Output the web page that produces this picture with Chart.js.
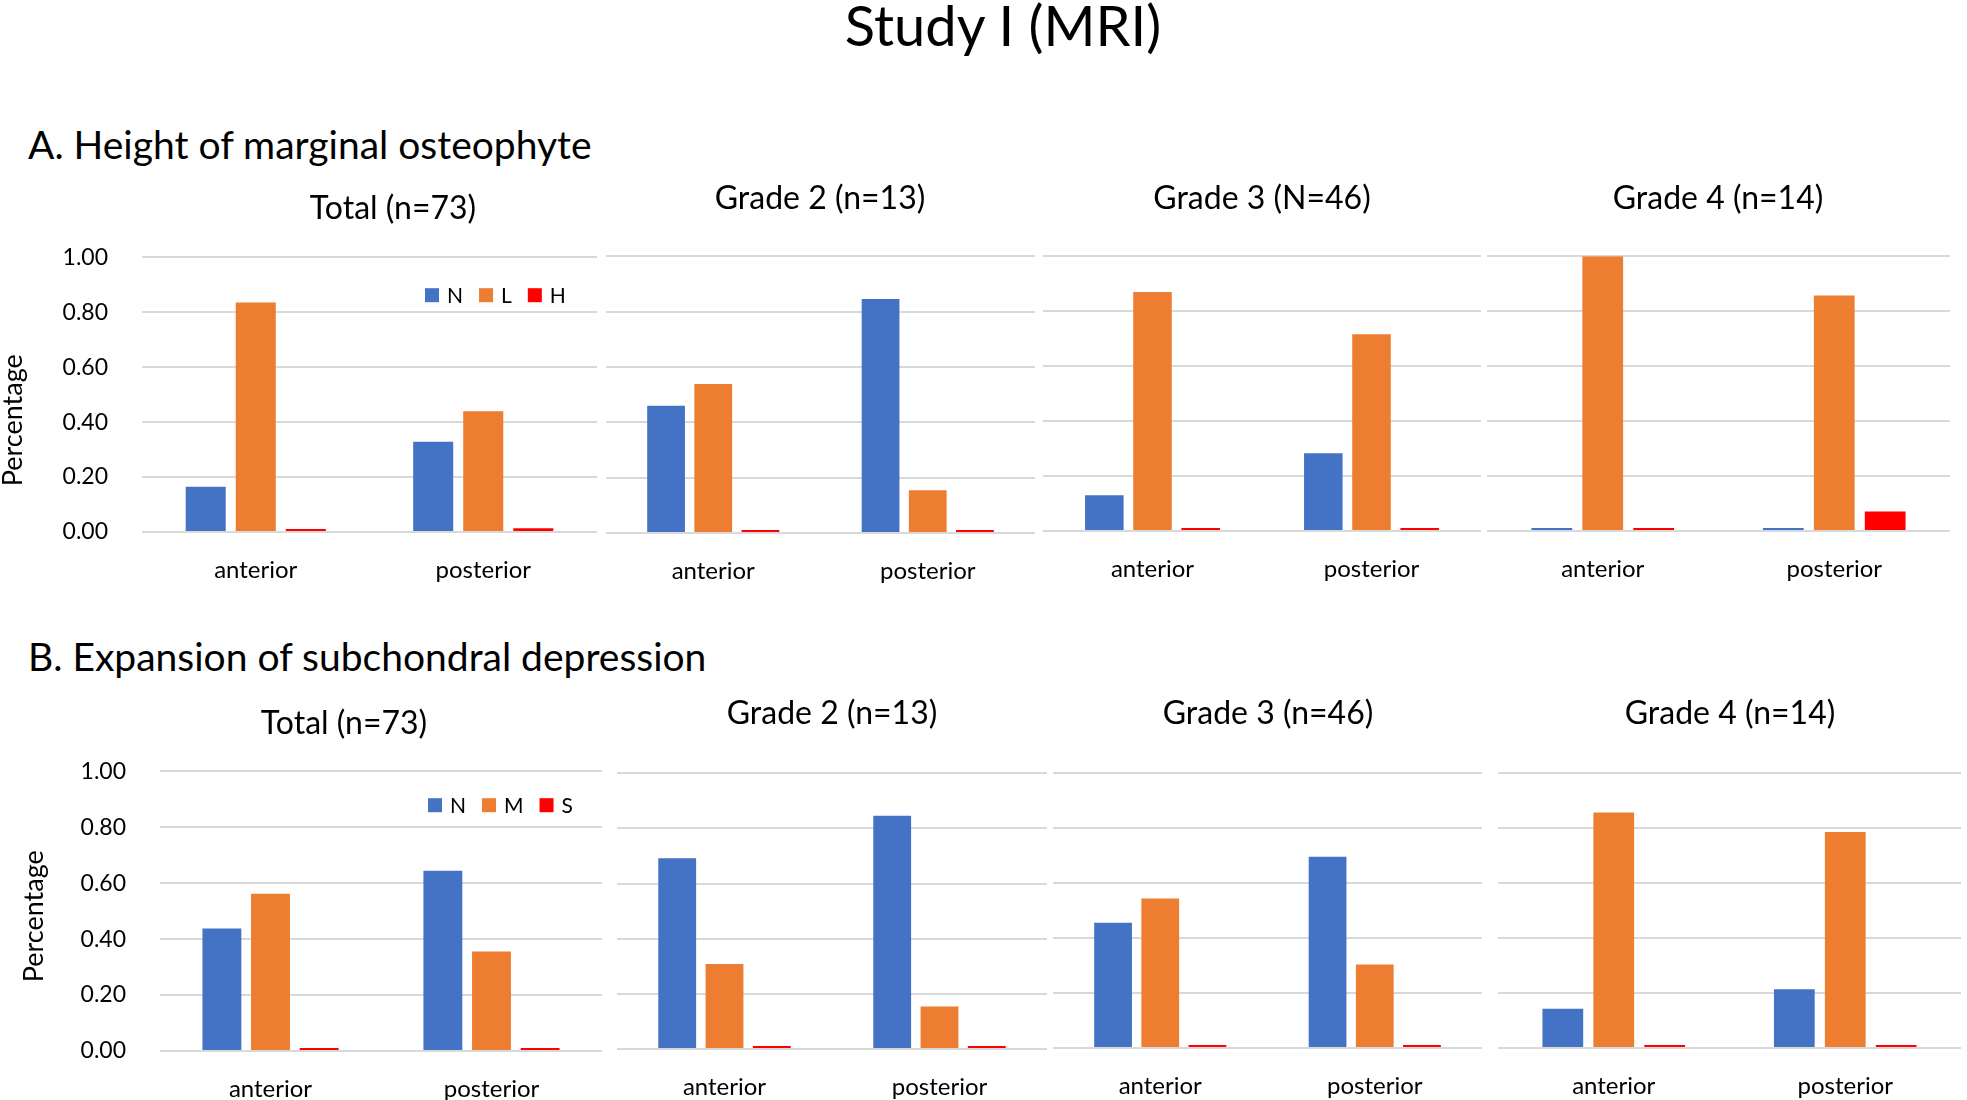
<!DOCTYPE html>
<html>
<head>
<meta charset="utf-8">
<script src="https://cdn.jsdelivr.net/npm/chart.js@4.4.1/dist/chart.umd.min.js"></script>
<style>
  html, body { margin: 0; padding: 0; background: #fff; overflow: hidden; }
  body { width: 1967px; height: 1100px; position: relative; font-family: Lato, sans-serif; color: #000; }
  .txt { position: absolute; white-space: nowrap; line-height: 1; }
  canvas { position: absolute; }
</style>
</head>
<body>
<div class="txt" style="left:1003px; top:25px; transform:translate(-50%,-50%); font-size:56px;">Study I (MRI)</div>
<div class="txt" style="left:28px; top:144px; transform:translateY(-50%); font-size:39px;">A. Height of marginal osteophyte</div>
<div class="txt" style="left:28px; top:656px; transform:translateY(-50%); font-size:39px;">B. Expansion of subchondral depression</div>
<script>
// categories and tick labels
const categories = ['anterior', 'posterior'];
const yTicks = [0, 0.2, 0.4, 0.6, 0.8, 1.0];

// A. height of marginal osteophyte, one [anterior, posterior] pair per panel
const titlesA = ['Total (n=73)', 'Grade 2 (n=13)', 'Grade 3 (N=46)', 'Grade 4 (n=14)'];
const seriesA = ['N', 'L', 'H'];
const heightN = [[0.165, 0.328], [0.46, 0.845], [0.13, 0.283], [0, 0]];
const heightL = [[0.835, 0.439], [0.538, 0.154], [0.87, 0.716], [1.0, 0.857]];
const heightH = [[0, 0.014], [0, 0], [0, 0], [0, 0.071]];

// B. expansion of subchondral depression
const titlesB = ['Total (n=73)', 'Grade 2 (n=13)', 'Grade 3 (n=46)', 'Grade 4 (n=14)'];
const seriesB = ['N', 'M', 'S'];
const depressionN = [[0.438, 0.644], [0.692, 0.846], [0.456, 0.696], [0.143, 0.214]];
const depressionM = [[0.562, 0.356], [0.308, 0.154], [0.544, 0.304], [0.857, 0.786]];
const depressionS = [[0, 0], [0, 0], [0, 0], [0, 0]];

const colors = ['#4472C4', '#ED7D31', '#FF0000'];
const titleSize = 32;

// where each panel sits on the page: canvas left, plot box [l, r, t, b], title centre, canvas bottom
const boxesA = [
  { left: 0, plot: [142, 597, 257, 532], title: [393, 208], bottom: 600 },
  { left: 596, plot: [606, 1035, 256, 533], title: [820, 198], bottom: 600 },
  { left: 1033, plot: [1043, 1481, 256, 531], title: [1262, 198], bottom: 600 },
  { left: 1477, plot: [1487, 1950, 256, 531], title: [1718, 198], bottom: 600 }
];
const boxesB = [
  { left: 0, plot: [160, 602, 771, 1051], title: [344, 723], bottom: 1100 },
  { left: 607, plot: [617, 1047, 773, 1049], title: [832, 713], bottom: 1100 },
  { left: 1043, plot: [1053, 1482, 773, 1048], title: [1268, 713], bottom: 1100 },
  { left: 1488, plot: [1498, 1961, 773, 1048], title: [1730, 713], bottom: 1100 }
];

Chart.defaults.font.family = 'Lato, sans-serif';
Chart.defaults.color = '#000';

// small legend drawn inside the plot area, plus the rotated axis label
const panelExtras = {
  id: 'panelExtras',
  afterDraw(chart, args, opts) {
    const ctx = chart.ctx;
    ctx.save();
    if (opts.legend) {
      let x = opts.legend[0];
      const y = opts.legend[1];
      ctx.font = '21px Lato, sans-serif';
      ctx.textBaseline = 'middle';
      chart.data.datasets.forEach(ds => {
        ctx.fillStyle = ds.backgroundColor;
        ctx.fillRect(x, y - 7, 14, 14);
        ctx.fillStyle = '#000';
        ctx.fillText(ds.label, x + 22, y + 1);
        x += 22 + ctx.measureText(ds.label).width + 16;
      });
    }
    if (opts.axisLabel) {
      ctx.font = '27px Lato, sans-serif';
      ctx.fillStyle = '#000';
      ctx.textAlign = 'center';
      ctx.textBaseline = 'middle';
      ctx.translate(opts.axisLabel[0], opts.axisLabel[1]);
      ctx.rotate(-Math.PI / 2);
      ctx.fillText(opts.axisLabel[2], 0, 0);
    }
    ctx.restore();
  }
};

function makePanel(box, title, names, values, first, legendAt, labelAt) {
  const [pl, pr, pt, pb] = box.plot;
  const [tx, ty] = box.title;
  const half = titleSize * 0.6;
  const left = box.left;
  const right = 2 * tx - left;
  const top = ty - half;
  const cv = document.createElement('canvas');
  cv.width = right - left;
  cv.height = Math.round(box.bottom - top);
  cv.style.left = left + 'px';
  cv.style.top = top + 'px';
  document.body.appendChild(cv);

  new Chart(cv, {
    type: 'bar',
    data: {
      labels: categories,
      datasets: names.map((n, i) => ({
        label: n,
        data: values[i],
        backgroundColor: colors[i],
        minBarLength: 3,
        categoryPercentage: 0.66,
        barPercentage: 0.8
      }))
    },
    options: {
      responsive: false,
      animation: false,
      layout: { padding: 0 },
      plugins: {
        legend: { display: false },
        tooltip: { enabled: false },
        title: {
          display: true,
          text: title,
          color: '#000',
          font: { size: titleSize, weight: 'normal', lineHeight: 1.2 },
          padding: { top: 0, bottom: pt - ty - half }
        },
        panelExtras: {
          legend: legendAt ? [legendAt[0] - left, legendAt[1] - top] : null,
          axisLabel: labelAt ? [labelAt[0] - left, labelAt[1] - top, 'Percentage'] : null
        }
      },
      scales: {
        x: {
          grid: { display: false },
          border: { display: false },
          ticks: { font: { size: 24 }, color: '#000', padding: 16, maxRotation: 0 },
          afterFit: s => { s.height = box.bottom - pb; }
        },
        y: {
          min: 0,
          max: 1,
          afterBuildTicks: s => { s.ticks = yTicks.map(v => ({ value: v })); },
          grid: { color: '#d9d9d9', lineWidth: 2, drawTicks: false },
          border: { display: false },
          ticks: { display: first, callback: v => v.toFixed(2), font: { size: 23 }, color: '#000', padding: 34 },
          afterFit: s => { s.width = pl - left; }
        },
        yR: {
          position: 'right',
          display: true,
          grid: { display: false },
          border: { display: false },
          ticks: { display: false },
          afterFit: s => { s.width = right - pr; }
        }
      }
    },
    plugins: [panelExtras]
  });
}

boxesA.forEach((b, i) => {
  makePanel(b, titlesA[i], seriesA, [heightN[i], heightL[i], heightH[i]], i === 0,
    i === 0 ? [425, 295] : null, i === 0 ? [13, 420] : null);
});
boxesB.forEach((b, i) => {
  makePanel(b, titlesB[i], seriesB, [depressionN[i], depressionM[i], depressionS[i]], i === 0,
    i === 0 ? [428, 805] : null, i === 0 ? [34, 916] : null);
});
</script>
</body>
</html>
